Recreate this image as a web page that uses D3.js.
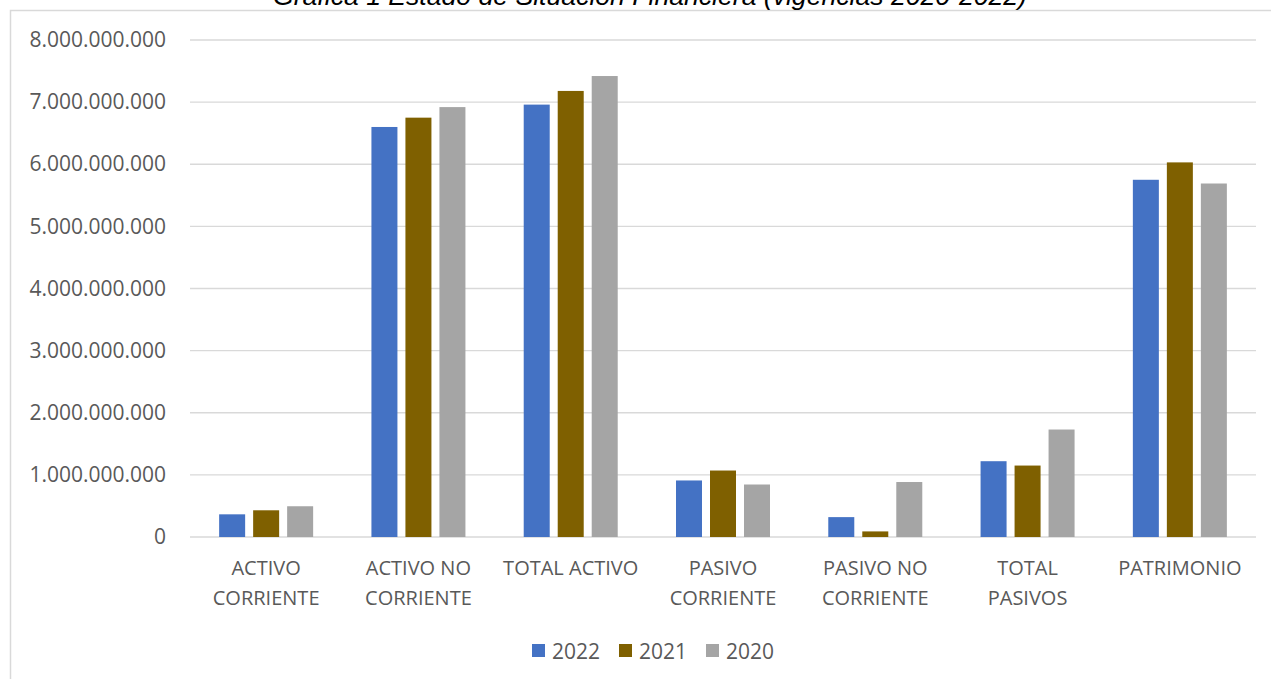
<!DOCTYPE html>
<html><head><meta charset="utf-8">
<script src="https://cdn.jsdelivr.net/npm/d3@7"></script>
<style>
html,body{margin:0;padding:0;background:#fff;overflow:hidden}
svg{display:block}
</style></head>
<body>
<script>
const categories = [["ACTIVO","CORRIENTE"],["ACTIVO NO","CORRIENTE"],["TOTAL ACTIVO"],["PASIVO","CORRIENTE"],["PASIVO NO","CORRIENTE"],["TOTAL","PASIVOS"],["PATRIMONIO"]];
const seriesNames = ["2022","2021","2020"];
const values2022 = [365000000, 6600000000, 6960000000, 910000000, 320000000, 1220000000, 5750000000];
const values2021 = [430000000, 6750000000, 7180000000, 1070000000, 90000000, 1150000000, 6030000000];
const values2020 = [495000000, 6920000000, 7420000000, 845000000, 885000000, 1730000000, 5690000000];
const colors = ["#4472C4","#7F6000","#A5A5A5"];
const tickValues = [0,1e9,2e9,3e9,4e9,5e9,6e9,7e9,8e9];
const title = "Gráfica 1 Estado de Situación Financiera (vigencias 2020-2022)";

const W = 1271, H = 679;
const svg = d3.select("body").append("svg").attr("width", W).attr("height", H);
const font = "'Open Sans', sans-serif";
const txt = "#595959";

// border
svg.append("rect").attr("x", 10.5).attr("y", 10.5).attr("width", 1300).attr("height", 700)
  .attr("fill", "none").attr("stroke", "#d9d9d9").attr("stroke-width", 1.5);

// title
svg.append("text").attr("x", 650).attr("y", 5).attr("text-anchor", "middle")
  .attr("font-family", "'Liberation Sans', Arial, sans-serif").attr("font-style", "italic")
  .attr("font-size", 26.6).attr("fill", "#000").text(title);

const catKeys = categories.map(c => c.join(" "));
const x0 = d3.scaleBand().domain(catKeys).range([190, 1256]).paddingInner(0).paddingOuter(0);
const x1 = d3.scaleBand().domain(seriesNames).range([-47, 47]).paddingInner(8/34).paddingOuter(0);
const y = d3.scaleLinear().domain([0, 8e9]).range([537, 40]);

const loc = d3.formatLocale({decimal: ",", thousands: ".", grouping: [3], currency: ["$", ""]});
const fmt = loc.format(",");

// gridlines
svg.append("g").selectAll("line").data(tickValues).join("line")
  .attr("x1", 190).attr("x2", 1256)
  .attr("y1", d => y(d)).attr("y2", d => y(d))
  .attr("stroke", "#d9d9d9").attr("stroke-width", 1.4);

// y axis labels
const yAxis = d3.axisLeft(y).tickValues(tickValues).tickFormat(fmt).tickSize(0).tickPadding(0);
const ga = svg.append("g").attr("transform", "translate(166,0)").call(yAxis);
ga.select(".domain").remove();
ga.selectAll("text").attr("font-family", font).attr("font-size", 21).attr("fill", txt);

// bars
const allValues = [values2022, values2021, values2020];
seriesNames.forEach((s, si) => {
  svg.append("g").selectAll("rect").data(allValues[si]).join("rect")
    .attr("x", (d, i) => x0(catKeys[i]) + x0.bandwidth()/2 + x1(s))
    .attr("width", x1.bandwidth())
    .attr("y", d => y(d))
    .attr("height", d => y(0) - y(d))
    .attr("fill", colors[si]);
});

// category labels
const cl = svg.append("g");
categories.forEach((c, i) => {
  const t = cl.append("text").attr("text-anchor", "middle")
    .attr("font-family", font).attr("font-size", 20).attr("fill", txt);
  c.forEach((line, li) => {
    t.append("tspan").attr("x", x0(catKeys[i]) + x0.bandwidth()/2)
      .attr("y", 575 + li * 29.5).text(line);
  });
});

// legend
const legendX = [532, 619, 706];
const lg = svg.append("g");
seriesNames.forEach((s, i) => {
  lg.append("rect").attr("x", legendX[i]).attr("y", 644).attr("width", 13).attr("height", 13).attr("fill", colors[i]);
  lg.append("text").attr("x", legendX[i] + 20).attr("y", 658.5)
    .attr("font-family", font).attr("font-size", 21).attr("fill", txt).text(s);
});
</script>
</body></html>
